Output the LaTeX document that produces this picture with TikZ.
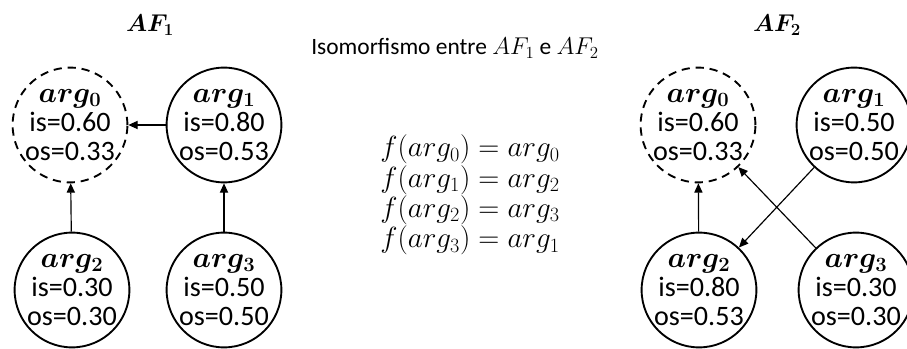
\documentclass[tikz,border=0pt]{standalone}
\usepackage{fontspec}
\setmainfont{Carlito}
\usepackage{amsmath,bm}
\usetikzlibrary{arrows.meta}

\newcommand{\argn}[1]{\bm{arg_{#1}}}

\begin{document}
\begin{tikzpicture}[x=0.03cm, y=0.03cm, line width=0.5pt,
  argnode/.style={circle, draw, line width=1.6pt, minimum size=3.3cm, inner sep=0pt,
    align=center, font=\fontsize{24}{25}\selectfont},
  startnode/.style={argnode, dash pattern=on 7pt off 5pt},
  att/.style={-{Triangle[length=8pt,width=7pt]}, line width=1pt}]
  \useasboundingbox (0,0) rectangle (907,349);
  % titulos
  \node[font=\fontsize{22}{24}\selectfont] (t1) at (150,324) {$\bm{AF_1}$};
  \node[font=\fontsize{22}{24}\selectfont] (t2) at (777,324) {$\bm{AF_2}$};
  % AF1
  \node[startnode] (l0) at (70,224) {$\argn{0}$\\is=0.60\\os=0.33};
  \node[argnode] (l1) at (224,224) {$\argn{1}$\\is=0.80\\os=0.53};
  \node[argnode] (l2) at (72,59) {$\argn{2}$\\is=0.30\\os=0.30};
  \node[argnode] (l3) at (224,59) {$\argn{3}$\\is=0.50\\os=0.50};
  \draw[att] (l1) -- (l0);
  \draw[att] (l2) -- (l0);
  \draw[att] (l3) -- (l1);
  % AF2
  \node[startnode] (r0) at (698,224) {$\argn{0}$\\is=0.60\\os=0.33};
  \node[argnode] (r1) at (854,224) {$\argn{1}$\\is=0.50\\os=0.50};
  \node[argnode] (r2) at (699,59) {$\argn{2}$\\is=0.80\\os=0.53};
  \node[argnode] (r3) at (856,59) {$\argn{3}$\\is=0.30\\os=0.30};
  \draw[att] (r2) -- (r0);
  \draw[att] (r1) -- (r2);
  \draw[att] (r3) -- (r0);
  % isomorfismo
  \node[font=\fontsize{20}{24}\selectfont] (iso) at (455,301) {Isomorfismo entre $AF_1$ e $AF_2$};
  \node[align=center, font=\fontsize{25}{24}\selectfont] (map) at (470,154)
    {$f(arg_0)=arg_0$\\$f(arg_1)=arg_2$\\$f(arg_2)=arg_3$\\$f(arg_3)=arg_1$};
\end{tikzpicture}
\end{document}
